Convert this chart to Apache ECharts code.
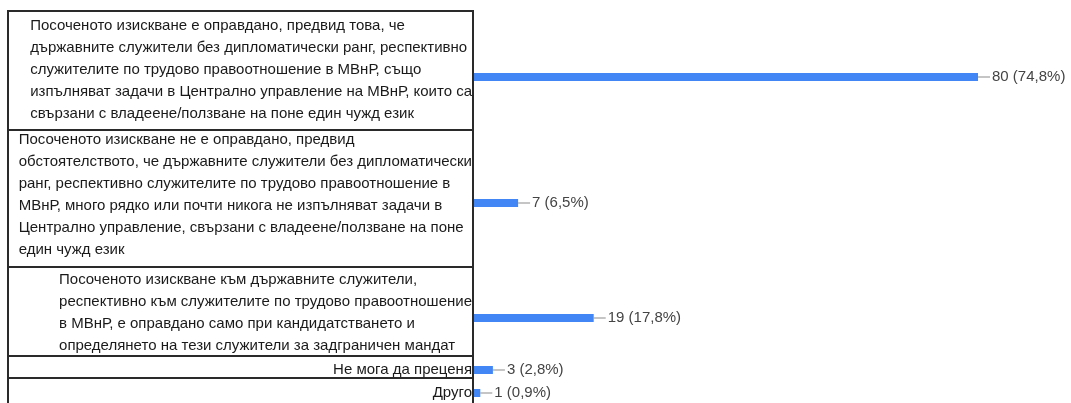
<!DOCTYPE html>
<html>
<head>
<meta charset="utf-8">
<script src="https://cdn.jsdelivr.net/npm/echarts@6/dist/echarts.min.js"></script>
<style>
html,body{margin:0;padding:0;background:#fff;}
#chart{width:1071px;height:403px;}
</style>
</head>
<body>
<div id="chart"></div>
<script>
// ---- data ----
const categories = [
  "Посоченото изискване е оправдано, предвид това, че\nдържавните служители без дипломатически ранг, респективно\nслужителите по трудово правоотношение в МВнР, също\nизпълняват задачи в Централно управление на МВнР, които са\nсвързани с владеене/ползване на поне един чужд език",
  "Посоченото изискване не е оправдано, предвид\nобстоятелството, че държавните служители без дипломатически\nранг, респективно служителите по трудово правоотношение в\nМВнР, много рядко или почти никога не изпълняват задачи в\nЦентрално управление, свързани с владеене/ползване на поне\nедин чужд език",
  "Посоченото изискване към държавните служители,\nреспективно към служителите по трудово правоотношение\nв МВнР, е оправдано само при кандидатстването и\nопределянето на тези служители за задграничен мандат",
  "Не мога да преценя",
  "Друго"
];
const counts = [80, 7, 19, 3, 1];
const percents = ["74,8%", "6,5%", "17,8%", "2,8%", "0,9%"];

// ---- layout (not data) ----
const rowTops = [11, 130, 267, 356, 378];
const rowHeights = [119, 137, 89, 22, 32];
const gridHeights = [132, 146, 102, 28, 30];
const labelShift = [15, 16, 10, 0, 0];
const GRID_LEFT = 474, GRID_RIGHT = 93, BOX_LEFT = 8;
const FONT = '"Liberation Sans Narrow", "Liberation Sans", Arial, sans-serif';

const grids = [], xAxes = [], yAxes = [], series = [], graphics = [];
categories.forEach((c, i) => {
  grids.push({left: GRID_LEFT, right: GRID_RIGHT, top: rowTops[i], height: gridHeights[i], outerBoundsMode: 'none', containLabel: false});
  xAxes.push({type: 'value', gridIndex: i, min: 0, max: 80, show: false});
  yAxes.push({
    type: 'category', gridIndex: i, data: [c],
    axisLine: {show: false}, axisTick: {show: false},
    axisLabel: {
      margin: 2,
      formatter: v => v.split('\n').map(s => '{t|' + s + '}').join('\n'),
      padding: [0, 0, labelShift[i], 0],
      rich: {t: {align: 'left', fontFamily: FONT, fontSize: 15, color: '#1a1a1a', lineHeight: 22}}
    }
  });
  series.push({
    type: 'bar', xAxisIndex: i, yAxisIndex: i, data: [counts[i]],
    barWidth: 8, itemStyle: {color: '#4285f4'},
    silent: true,
    label: {
      show: true, position: 'right', distance: 0,
      formatter: p => '{d|}{v|' + counts[i] + ' (' + percents[i] + ')}',
      rich: {
        d: {width: 12, height: 1, backgroundColor: '#8a8a8a'},
        v: {fontFamily: FONT, fontSize: 15, color: '#444', padding: [0, 0, 0, 2]}
      }
    }
  });
  graphics.push({
    type: 'rect', silent: true, z: 10,
    shape: {x: BOX_LEFT, y: rowTops[i], width: GRID_LEFT - 1 - BOX_LEFT, height: rowHeights[i]},
    style: {fill: 'none', stroke: '#2a2a2a', lineWidth: 2}
  });
});

const chart = echarts.init(document.getElementById('chart'), null, {renderer: 'canvas'});
chart.setOption({
  animation: false,
  backgroundColor: '#fff',
  grid: grids, xAxis: xAxes, yAxis: yAxes, series: series,
  graphic: graphics
});
</script>
</body>
</html>
